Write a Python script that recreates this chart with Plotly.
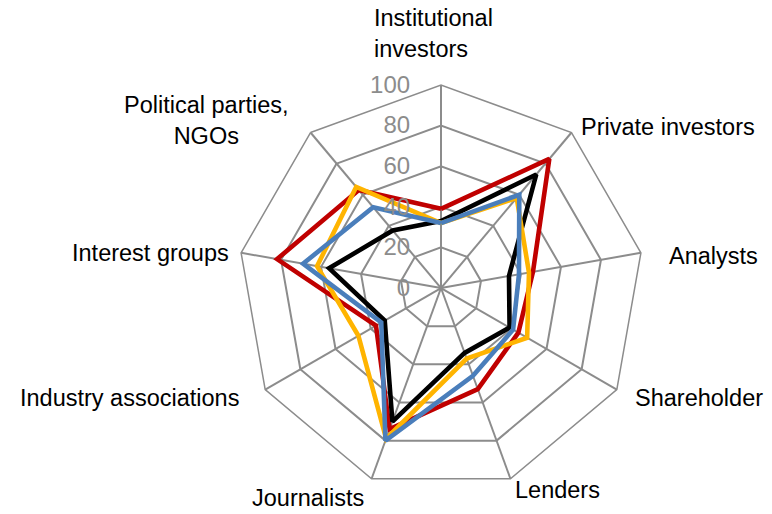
import plotly.graph_objects as go

# Stakeholder groups, clockwise from the top
categories = [
    "Institutional investors",
    "Private investors",
    "Analysts",
    "Shareholder",
    "Lenders",
    "Journalists",
    "Industry associations",
    "Interest groups",
    "Political parties, NGOs",
]

# Display text for each group's label
label_texts = [
    "Institutional<br>investors",
    "Private investors",
    "Analysts",
    "Shareholder",
    "Lenders",
    "Journalists",
    "Industry associations",
    "Interest groups",
    "Political parties,<br>NGOs",
]

# Scores per series (0-100)
red_values = [39, 83, 46, 44, 53, 74, 37, 82, 63]
black_values = [33, 73, 34, 39, 34, 70, 32, 56, 37]
orange_values = [32, 58, 44, 49, 37, 79, 47, 62, 65]
blue_values = [32, 60, 39, 41, 46, 80, 34, 69, 52]

radial_ticks = [0, 20, 40, 60, 80, 100]

series = [
    (red_values, "#C00000"),
    (black_values, "#000000"),
    (orange_values, "#FFB400"),
    (blue_values, "#4A7EBB"),
]

W, H = 772, 514

fig = go.Figure()
for values, color in series:
    fig.add_trace(go.Scatterpolar(
        r=values + values[:1],
        theta=categories + categories[:1],
        mode="lines",
        line=dict(color=color, width=4.6),
        showlegend=False,
        hoverinfo="skip",
    ))

# Category label placement around the web (pixel anchor, alignment)
label_layout = [
    (372, 33, "left", "left"),
    (579, 127, "left", "left"),
    (667, 256, "left", "left"),
    (633, 398, "left", "left"),
    (513, 490, "left", "left"),
    (250, 498, "left", "left"),
    (241, 398, "right", "right"),
    (231, 253, "right", "right"),
    (206, 120, "center", "center"),
]
annotations = []
for text, (px, py, xanchor, align) in zip(label_texts, label_layout):
    annotations.append(dict(
        text=text,
        x=px / W,
        y=1 - py / H,
        xref="paper",
        yref="paper",
        xanchor=xanchor,
        yanchor="middle",
        align=align,
        showarrow=False,
        font=dict(size=23.5, color="black"),
    ))

grid_color = "#8C8C8C"
fig.update_layout(
    width=W,
    height=H,
    margin=dict(l=0, r=0, t=0, b=0),
    paper_bgcolor="white",
    plot_bgcolor="white",
    font=dict(family="Liberation Sans, Arial, sans-serif", size=24, color="black"),
    annotations=annotations,
    polar=dict(
        domain=dict(x=[0.3083, 0.8342], y=[0.0447, 0.8346]),
        bgcolor="white",
        gridshape="linear",
        angularaxis=dict(
            rotation=90,
            direction="clockwise",
            showline=True,
            linecolor=grid_color,
            linewidth=1.5,
            gridcolor=grid_color,
            gridwidth=1.5,
            showticklabels=False,
            ticks="",
        ),
        radialaxis=dict(
            range=[0, 100],
            tickvals=radial_ticks,
            angle=90,
            tickangle=90,
            side="counterclockwise",
            showline=False,
            gridcolor=grid_color,
            gridwidth=1.5,
            ticks="outside",
            ticklen=22,
            tickcolor="rgba(0,0,0,0)",
            tickfont=dict(size=24, color="#8C8C8C"),
        ),
    ),
)

fig.write_html("out.html")
